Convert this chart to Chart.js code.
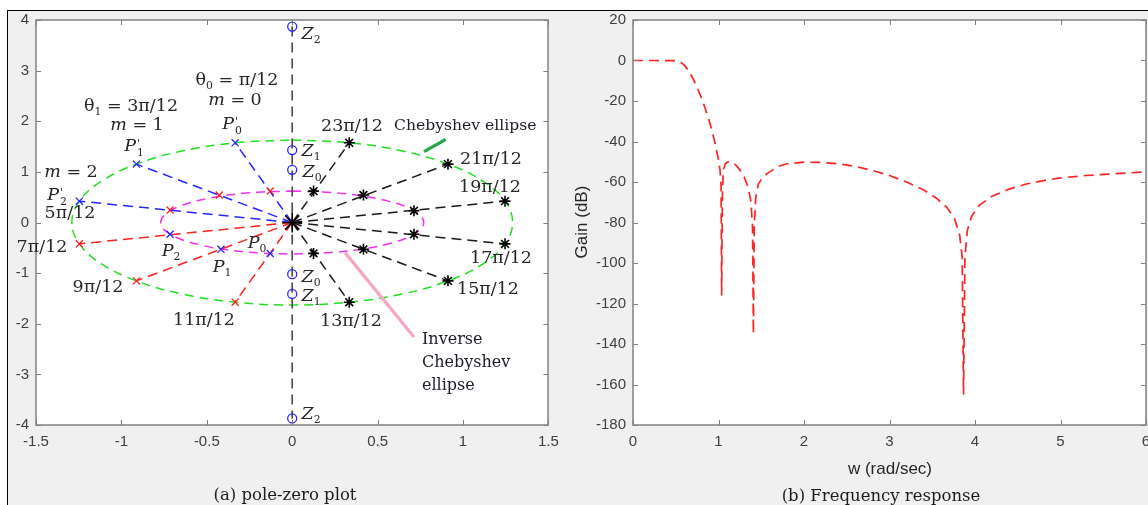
<!DOCTYPE html>
<html>
<head>
<meta charset="utf-8">
<script src="https://cdn.jsdelivr.net/npm/chart.js@4.4.0/dist/chart.umd.min.js"></script>
<style>
html,body{margin:0;padding:0;background:#fff;}
#wrap{position:relative;width:1148px;height:505px;overflow:hidden;}
#frame{position:absolute;left:7px;top:10px;right:0;bottom:0;background:#f0f0f0;border-left:1px solid #000;border-top:1px solid #000;}
canvas{position:absolute;top:0;}
#pz{left:0;}
#fr{left:560px;}
.lb{position:absolute;transform:translate(-50%,-50%);font-family:"DejaVu Serif",serif;font-size:17.5px;color:#262626;white-space:nowrap;line-height:1;}
.lb i{font-style:italic;}
.lb sub{font-size:0.62em;vertical-align:-0.3em;line-height:0;}
.st{display:inline-block;font-size:0.62em;line-height:0.9;vertical-align:-0.5em;margin-left:1px;text-align:left;}
.st b{display:block;font-weight:normal;}
.tx{position:absolute;transform:translate(0,-50%);font-family:"DejaVu Serif",serif;color:#1c1c28;white-space:nowrap;line-height:1;}
.ax{position:absolute;transform:translate(-50%,-50%);font-family:"Liberation Sans",Arial,sans-serif;font-size:17px;color:#262626;white-space:nowrap;line-height:1;}
.cap{position:absolute;transform:translate(-50%,-50%);font-family:"DejaVu Serif",serif;font-size:16.5px;color:#1c1c1c;white-space:nowrap;line-height:1;}
</style>
</head>
<body>
<div id="wrap">
  <div id="frame"></div>
  <canvas id="pz" width="560" height="505"></canvas>
  <canvas id="fr" width="588" height="505"></canvas>

  <!-- pole-zero annotations -->
  <div class="lb" style="left:237px;top:80px">θ<sub>0</sub> = π/12</div>
  <div class="lb" style="left:235px;top:100px"><i>m</i> = 0</div>
  <div class="lb" style="left:131px;top:106px">θ<sub>1</sub> = 3π/12</div>
  <div class="lb" style="left:137px;top:125px"><i>m</i> = 1</div>
  <div class="lb" style="left:232px;top:126px"><i>P</i><span class="st"><b>'</b><b>0</b></span></div>
  <div class="lb" style="left:134px;top:148px"><i>P</i><span class="st"><b>'</b><b>1</b></span></div>
  <div class="lb" style="left:71px;top:172px"><i>m</i> = 2</div>
  <div class="lb" style="left:57px;top:197px"><i>P</i><span class="st"><b>'</b><b>2</b></span></div>
  <div class="lb" style="left:70px;top:213px">5π/12</div>
  <div class="lb" style="left:42px;top:247px">7π/12</div>
  <div class="lb" style="left:171px;top:251px"><i>P</i><sub>2</sub></div>
  <div class="lb" style="left:222px;top:267px"><i>P</i><sub>1</sub></div>
  <div class="lb" style="left:257px;top:243px"><i>P</i><sub>0</sub></div>
  <div class="lb" style="left:98px;top:287px">9π/12</div>
  <div class="lb" style="left:204px;top:320px">11π/12</div>
  <div class="lb" style="left:311px;top:34px"><i>Z</i><sub>2</sub></div>
  <div class="lb" style="left:311px;top:151px"><i>Z</i><sub>1</sub></div>
  <div class="lb" style="left:312px;top:172px"><i>Z</i><sub>0</sub></div>
  <div class="lb" style="left:311px;top:277px"><i>Z</i><sub>0</sub></div>
  <div class="lb" style="left:311px;top:296px"><i>Z</i><sub>1</sub></div>
  <div class="lb" style="left:311px;top:414px"><i>Z</i><sub>2</sub></div>
  <div class="lb" style="left:352px;top:126px">23π/12</div>
  <div class="lb" style="left:491px;top:159px">21π/12</div>
  <div class="lb" style="left:490px;top:187px">19π/12</div>
  <div class="lb" style="left:501px;top:258px">17π/12</div>
  <div class="lb" style="left:488px;top:289px">15π/12</div>
  <div class="lb" style="left:351px;top:321px">13π/12</div>
  <div class="tx" style="left:394px;top:126px;font-size:15.6px">Chebyshev ellipse</div>
  <div class="tx" style="left:422px;top:339px;font-size:16px">Inverse</div>
  <div class="tx" style="left:422px;top:362px;font-size:16px">Chebyshev</div>
  <div class="tx" style="left:422px;top:385px;font-size:16px">ellipse</div>

  <!-- axis titles and captions -->
  <div class="ax" style="left:581px;top:222px;transform:translate(-50%,-50%) rotate(-90deg)">Gain (dB)</div>
  <div class="ax" style="left:890px;top:468px">w (rad/sec)</div>
  <div class="cap" style="left:285px;top:495px">(a) pole-zero plot</div>
  <div class="cap" style="left:881px;top:496px">(b) Frequency response</div>
</div>

<script>
// tick values
const pzXTicks = [-1.5, -1, -0.5, 0, 0.5, 1, 1.5];
const pzYTicks = [-4, -3, -2, -1, 0, 1, 2, 3, 4];
const frXTicks = [0, 1, 2, 3, 4, 5, 6];
const frYTicks = [-180, -160, -140, -120, -100, -80, -60, -40, -20, 0, 20];

// Chebyshev ellipse (green)
const chebX = [0, 0.334, 0.645, 0.912, 1.117, 1.246, 1.29, 1.246, 1.117, 0.912, 0.645, 0.334, 0, -0.334, -0.645, -0.912, -1.117, -1.246, -1.29, -1.246, -1.117, -0.912, -0.645, -0.334, 0];
const chebY = [1.63, 1.574, 1.412, 1.153, 0.815, 0.422, 0, -0.422, -0.815, -1.153, -1.412, -1.574, -1.63, -1.574, -1.412, -1.153, -0.815, -0.422, 0, 0.422, 0.815, 1.153, 1.412, 1.574, 1.63];
// inverse Chebyshev ellipse (magenta)
const invX = [0, 0.199, 0.385, 0.544, 0.667, 0.744, 0.77, 0.744, 0.667, 0.544, 0.385, 0.199, 0, -0.199, -0.385, -0.544, -0.667, -0.744, -0.77, -0.744, -0.667, -0.544, -0.385, -0.199, 0];
const invY = [0.62, 0.599, 0.537, 0.438, 0.31, 0.16, 0, -0.16, -0.31, -0.438, -0.537, -0.599, -0.62, -0.599, -0.537, -0.438, -0.31, -0.16, 0, 0.16, 0.31, 0.438, 0.537, 0.599, 0.62];

// poles
const upOuterX = [-0.334, -0.912, -1.246];   // P'0 P'1 P'2 (blue)
const upOuterY = [1.574, 1.153, 0.422];
const upInnerX = [-0.129, -0.427, -0.715];   // red x
const upInnerY = [0.62, 0.543, 0.245];
const lowOuterX = [-1.246, -0.912, -0.334];  // 7pi/12 9pi/12 11pi/12 (red)
const lowOuterY = [-0.422, -1.153, -1.574];
const lowInnerX = [-0.715, -0.417, -0.129];  // P2 P1 P0 (blue)
const lowInnerY = [-0.233, -0.53, -0.61];
const rightOuterX = [0.334, 0.912, 1.246, 1.246, 0.912, 0.334];
const rightOuterY = [1.574, 1.153, 0.422, -0.422, -1.153, -1.574];
const rightInnerX = [0.125, 0.417, 0.713, 0.713, 0.417, 0.125];
const rightInnerY = [0.62, 0.543, 0.233, -0.233, -0.53, -0.61];
// zeros on the imaginary axis
const zeroY = [3.87, 1.43, 1.04, -1.02, -1.41, -3.87];

// pointer lines for the ellipse notes
const greenPtrX = [0.772, 0.899], greenPtrY = [1.40, 1.644];
const pinkPtrX = [0.31, 0.713], pinkPtrY = [-0.60, -2.26];

// frequency response
const freqW = [0, 0.25, 0.5, 0.55, 0.6, 0.65, 0.7, 0.75, 0.8, 0.85, 0.9, 0.95, 1.0, 1.02, 1.03, 1.037, 1.045, 1.056, 1.08, 1.11, 1.15, 1.2, 1.25, 1.3, 1.35, 1.38, 1.398, 1.408, 1.418, 1.435, 1.466, 1.52, 1.58, 1.7, 1.8, 2.0, 2.2, 2.4, 2.6, 2.8, 3.0, 3.2, 3.4, 3.55, 3.67, 3.76, 3.82, 3.85, 3.866, 3.882, 3.91, 3.96, 4.05, 4.2, 4.4, 4.6, 4.8, 5.0, 5.3, 5.6, 6.0];
const gainDb = [0, 0, -0.1, -0.6, -2.3, -5, -8.8, -13.3, -18.5, -24.3, -31, -39, -49, -55, -62, -116, -68, -54, -51, -50.1, -50.2, -51.5, -54, -57.5, -63, -70, -82, -135, -82, -68, -61, -57.5, -55.5, -52.3, -51, -50.2, -50.3, -51, -52.3, -54.3, -56.8, -60, -64, -68, -72.5, -78, -86, -97, -165, -97, -84, -77, -71.5, -67, -63.5, -61, -59.3, -58, -56.8, -56, -55];

const BLUE = '#2626ff', RED = '#ff1f1f', GREEN = '#1fe01f', MAG = '#f032f0';

function pts(xs, ys) { return xs.map((x, i) => ({x: x, y: ys[i]})); }

// white plot area + matlab style box with inward ticks
const boxPlugin = {
  id: 'box',
  beforeDraw(chart) {
    const a = chart.chartArea, c = chart.ctx;
    c.save();
    c.fillStyle = '#fff';
    c.fillRect(a.left, a.top, a.right - a.left, a.bottom - a.top);
    c.restore();
  },
  afterDraw(chart) {
    const a = chart.chartArea, c = chart.ctx;
    const xs = chart.scales.x, ys = chart.scales.y;
    c.save();
    c.strokeStyle = '#808080';
    c.lineWidth = 1;
    c.beginPath();
    xs.ticks.forEach(t => {
      const p = Math.round(xs.getPixelForValue(t.value)) + 0.5;
      c.moveTo(p, a.bottom); c.lineTo(p, a.bottom - 5);
      c.moveTo(p, a.top); c.lineTo(p, a.top + 5);
    });
    ys.ticks.forEach(t => {
      const p = Math.round(ys.getPixelForValue(t.value)) + 0.5;
      c.moveTo(a.left, p); c.lineTo(a.left + 5, p);
      c.moveTo(a.right, p); c.lineTo(a.right - 5, p);
    });
    c.stroke();
    c.lineWidth = 1.5;
    c.strokeRect(Math.round(a.left), Math.round(a.top), Math.round(a.right - a.left), Math.round(a.bottom - a.top));
    c.restore();
  }
};

const tickFont = {family: '"Liberation Sans", Arial, sans-serif', size: 15};

function axis(min, max, list, size, isX) {
  return {
    type: 'linear', min: min, max: max,
    grid: {display: false, drawTicks: false},
    border: {display: false},
    ticks: {padding: isX ? 8 : 7, color: '#404040', font: tickFont, callback: v => String(v)},
    afterBuildTicks: s => { s.ticks = list.map(v => ({value: v})); },
    afterFit: s => {
      if (isX) { s.height = size; s.paddingLeft = 0; s.paddingRight = 0; }
      else { s.width = size; s.paddingTop = 0; s.paddingBottom = 0; }
    }
  };
}

function seg(x1, y1, x2, y2, color, dash, w) {
  return {data: [{x: x1, y: y1}, {x: x2, y: y2}], showLine: true, borderColor: color,
    borderDash: dash, borderWidth: w, pointRadius: 0, order: 10};
}
function marks(xs, ys, style, color, r, bw) {
  return {data: pts(xs, ys), showLine: false, pointStyle: style, pointRadius: r,
    pointBorderColor: color, pointBackgroundColor: 'rgba(0,0,0,0)', pointBorderWidth: bw || 1.3, order: 1};
}

const pzSets = [];
// imaginary axis
pzSets.push(seg(0, zeroY[0], 0, zeroY[zeroY.length - 1], '#4d4d4d', [10, 6], 1.7));
// ellipses
pzSets.push({data: pts(chebX, chebY), showLine: true, tension: 0.4, borderColor: GREEN, borderDash: [9, 6], borderWidth: 1.5, pointRadius: 0, order: 11});
pzSets.push({data: pts(invX, invY), showLine: true, tension: 0.4, borderColor: MAG, borderDash: [9, 6], borderWidth: 1.5, pointRadius: 0, order: 11});
// radial lines
upOuterX.forEach((x, i) => pzSets.push(seg(0, 0, x, upOuterY[i], BLUE, [10, 6], 1.5)));
lowOuterX.forEach((x, i) => pzSets.push(seg(0, 0, x, lowOuterY[i], RED, [10, 6], 1.5)));
rightOuterX.forEach((x, i) => pzSets.push(seg(0, 0, x, rightOuterY[i], '#1a1a1a', [10, 6], 1.5)));
// pointers
pzSets.push({data: pts(greenPtrX, greenPtrY), showLine: true, borderColor: '#20a845', borderWidth: 3.2, pointRadius: 0, order: 5});
pzSets.push({data: pts(pinkPtrX, pinkPtrY), showLine: true, borderColor: '#f7a6c6', borderWidth: 3.2, pointRadius: 0, order: 5});
// markers
pzSets.push(marks(upOuterX, upOuterY, 'crossRot', BLUE, 5));
pzSets.push(marks(lowInnerX, lowInnerY, 'crossRot', BLUE, 5));
pzSets.push(marks(upInnerX, upInnerY, 'crossRot', RED, 5));
pzSets.push(marks(lowOuterX, lowOuterY, 'crossRot', RED, 5));
pzSets.push(marks(rightOuterX, rightOuterY, 'star', '#000', 5.5, 1.6));
pzSets.push(marks(rightInnerX, rightInnerY, 'star', '#000', 5.5, 1.6));
pzSets.push(marks(zeroY.map(() => 0), zeroY, 'circle', BLUE, 4.5));
pzSets.push(marks([0], [0], 'star', '#000', 10, 1.6));
pzSets.push(marks([0], [0], 'crossRot', RED, 7, 1.6));
pzSets.push(marks([0], [0], 'crossRot', BLUE, 7, 1.6));

new Chart(document.getElementById('pz'), {
  type: 'scatter',
  data: {datasets: pzSets},
  options: {
    responsive: false, animation: false,
    layout: {padding: {left: 0, right: 11, top: 20, bottom: 0}},
    plugins: {legend: {display: false}, tooltip: {enabled: false}},
    scales: {
      x: axis(-1.5, 1.5, pzXTicks, 80, true),
      y: axis(-4, 4, pzYTicks, 36, false)
    }
  },
  plugins: [boxPlugin]
});

new Chart(document.getElementById('fr'), {
  type: 'line',
  data: {datasets: [{
    data: pts(freqW, gainDb),
    borderColor: '#ff2424', borderDash: [10, 6], borderWidth: 1.7,
    pointRadius: 0, tension: 0, fill: false
  }]},
  options: {
    responsive: false, animation: false,
    layout: {padding: {left: 0, right: 2, top: 20, bottom: 0}},
    plugins: {legend: {display: false}, tooltip: {enabled: false}},
    scales: {
      x: axis(0, 6, frXTicks, 80, true),
      y: axis(-180, 20, frYTicks, 73, false)
    }
  },
  plugins: [boxPlugin]
});
</script>
</body>
</html>
